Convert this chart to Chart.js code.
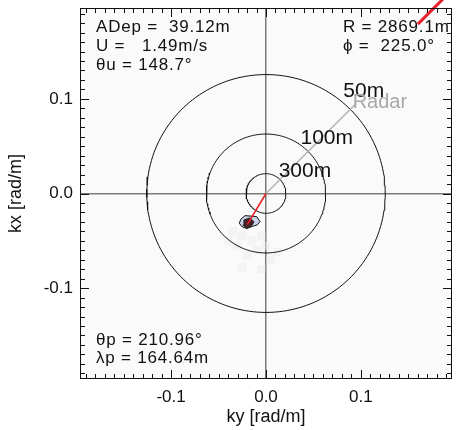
<!DOCTYPE html>
<html>
<head>
<meta charset="utf-8">
<script src="https://cdn.jsdelivr.net/npm/chart.js@4.4.1/dist/chart.umd.min.js"></script>
<style>
  html, body { margin: 0; padding: 0; background: #fff; }
  #wrap { width: 461px; height: 430px; }
</style>
</head>
<body>
<div id="wrap"><canvas id="spec" width="461" height="430"></canvas></div>
<script>
(function () {
    'use strict';

    // Axis range and ticks (rad/m).
    var AXIS_MIN   = -0.196;
    var AXIS_MAX   =  0.196;
    var tickValues = [-0.1, 0.0, 0.1];

    // Reference rings (wavelength in m).
    var ringWavelengths = [50, 100, 300];
    var ringLabels      = ['50m', '100m', '300m'];
    var ringLabelKy     = [0.103, 0.064, 0.041];
    var ringLabelKx     = [0.108, 0.058, 0.024];

    // Spectral peak.
    var peakKy = [0, -0.0196];
    var peakKx = [0, -0.0327];

    // Outer / inner contour around the peak.
    var outerKy = [-0.0266, -0.0221, -0.0098, -0.0063, -0.0092, -0.0151, -0.0203, -0.0256, -0.0281, -0.0266];
    var outerKx = [-0.0272, -0.0234, -0.0244, -0.0297, -0.0332, -0.0349, -0.0371, -0.0349, -0.0314, -0.0272];
    var innerKy = [-0.0232, -0.0168, -0.0126, -0.0158, -0.0211, -0.0242, -0.0232];
    var innerKx = [-0.0279, -0.0258, -0.0300, -0.0352, -0.0363, -0.0332, -0.0279];

    // Faint low-energy cells of the spectrum.
    var faintKy = [-0.025, -0.015, -0.005, -0.030, -0.020, -0.010, 0.000, -0.035, 0.005, -0.025, 0.012, -0.040, -0.005];
    var faintKx = [-0.045, -0.050, -0.045, -0.055, -0.065, -0.060, -0.055, -0.040, -0.070, -0.078, -0.062, -0.050, -0.080];

    // Radar look direction and current vector.
    var radarKy   = [0, 0.095];
    var radarKx   = [0, 0.095];
    var currentKy = [0.160, 0.195];
    var currentKx = [0.179, 0.214];

    // Text blocks.
    var infoLeft   = ['ADep =  39.12m', 'U =   1.49m/s', '\u03B8u = 148.7\u00B0'];
    var infoRight  = ['R = 2869.1m', '\u03D5 =  225.0\u00B0'];
    var infoBottom = ['\u03B8p = 210.96\u00B0', '\u03BBp = 164.64m'];

    var FONT = '"Liberation Sans", Arial, Helvetica, sans-serif';

    function pts(xs, ys) {
        return xs.map(function (x, i) { return { x: x, y: ys[i] }; });
    }

    function ringPoints(lambda) {
        var k = 2 * Math.PI / lambda;
        var out = [];
        for (var i = 0; i <= 180; i++) {
            var a = i / 180 * 2 * Math.PI;
            out.push({ x: k * Math.cos(a), y: k * Math.sin(a) });
        }
        return out;
    }

    var datasets = [];

    datasets.push({
        data: pts(faintKy, faintKx),
        pointStyle: 'rect',
        pointRadius: 6,
        pointBorderWidth: 0,
        backgroundColor: 'rgba(236,236,241,0.5)',
        order: 9
    });

    ringWavelengths.forEach(function (w) {
        datasets.push({
            data: ringPoints(w),
            showLine: true,
            borderColor: '#111',
            borderWidth: 1,
            pointRadius: 0,
            fill: false,
            order: 5
        });
    });

    datasets.push({
        data: pts(radarKy, radarKx),
        showLine: true,
        borderColor: '#b4b4b4',
        borderWidth: 1.5,
        pointRadius: 0,
        order: 4
    });

    datasets.push({
        data: pts(outerKy, outerKx),
        showLine: true,
        borderColor: '#111',
        borderWidth: 1,
        backgroundColor: '#c6d3e6',
        fill: 'shape',
        pointRadius: 0,
        order: 3
    });

    datasets.push({
        data: pts(innerKy, innerKx),
        showLine: true,
        borderColor: '#222',
        borderWidth: 1,
        backgroundColor: '#4b2228',
        fill: 'shape',
        pointRadius: 0,
        order: 2
    });

    datasets.push({
        data: pts(peakKy, peakKx),
        showLine: true,
        borderColor: '#e8202a',
        borderWidth: 1.6,
        pointRadius: 0,
        order: 1
    });

    datasets.push({
        data: pts(currentKy, currentKx),
        showLine: true,
        borderColor: '#e8202a',
        borderWidth: 3,
        pointRadius: 0,
        clip: false,
        order: 0
    });

    function zeroGrid(ctx) {
        return ctx.tick && ctx.tick.value === 0 ? '#7a7a7a' : 'rgba(0,0,0,0)';
    }

    // Plot background, frame, inward ticks and text.
    var decor = {
        id: 'decor',
        beforeDraw: function (chart) {
            var a = chart.chartArea, c = chart.ctx;
            c.save();
            c.fillStyle = '#fafafa';
            c.fillRect(a.left, a.top, a.right - a.left, a.bottom - a.top);
            c.restore();
        },
        afterDraw: function (chart) {
            var a = chart.chartArea, c = chart.ctx;
            var xs = chart.scales.x, ys = chart.scales.y;
            c.save();
            c.strokeStyle = '#111';
            c.lineWidth = 1;
            c.strokeRect(a.left + 0.5, a.top + 0.5, a.right - a.left - 1, a.bottom - a.top - 1);

            c.beginPath();
            for (var i = -19; i <= 19; i++) {
                var v = i / 100;
                var len = (i % 10 === 0) ? 9 : 5;
                var px = Math.round(xs.getPixelForValue(v)) + 0.5;
                var py = Math.round(ys.getPixelForValue(v)) + 0.5;
                c.moveTo(px, a.bottom); c.lineTo(px, a.bottom - len);
                c.moveTo(px, a.top);    c.lineTo(px, a.top + len);
                c.moveTo(a.left, py);   c.lineTo(a.left + len, py);
                c.moveTo(a.right, py);  c.lineTo(a.right - len, py);
            }
            c.stroke();

            // ring labels
            c.fillStyle = '#111';
            c.font = '21px ' + FONT;
            c.textAlign = 'center';
            c.textBaseline = 'middle';
            ringLabels.forEach(function (t, i) {
                c.fillText(t, xs.getPixelForValue(ringLabelKy[i]), ys.getPixelForValue(ringLabelKx[i]));
            });
            c.font = '20px ' + FONT;
            c.fillStyle = '#a8a8a8';
            c.fillText('Radar', xs.getPixelForValue(0.120), ys.getPixelForValue(0.096));

            // info blocks
            c.fillStyle = '#111';
            c.font = '17px ' + FONT;
            c.letterSpacing = '0.8px';
            c.textAlign = 'left';
            infoLeft.forEach(function (t, i) {
                c.fillText(t, a.left + 16, a.top + 19 + i * 19);
            });
            infoRight.forEach(function (t, i) {
                c.fillText(t, a.left + 263, a.top + 19 + i * 19);
            });
            infoBottom.forEach(function (t, i) {
                c.fillText(t, a.left + 16, a.bottom - 39 + i * 18);
            });
            c.restore();
        }
    };

    new Chart(document.getElementById('spec').getContext('2d'), {
        type: 'scatter',
        data: { datasets: datasets },
        plugins: [decor],
        options: {
            responsive: false,
            animation: false,
            layout: { padding: { top: 8, right: 9, left: 0, bottom: 0 } },
            plugins: { legend: { display: false }, tooltip: { enabled: false } },
            scales: {
                x: {
                    type: 'linear',
                    min: AXIS_MIN,
                    max: AXIS_MAX,
                    afterFit: function (s) {
                        s.height = 51;
                        s.paddingLeft = 0;
                        s.paddingRight = 0;
                    },
                    afterBuildTicks: function (s) {
                        s.ticks = tickValues.map(function (v) { return { value: v }; });
                    },
                    ticks: {
                        padding: 8,
                        color: '#111',
                        font: { family: FONT, size: 17 },
                        maxRotation: 0,
                        callback: function (v) { return Number(v).toFixed(1); }
                    },
                    grid: { color: zeroGrid, lineWidth: 1.5, drawTicks: false },
                    border: { display: false },
                    title: {
                        display: true,
                        text: 'ky [rad/m]',
                        color: '#111',
                        font: { family: FONT, size: 18 },
                        padding: { top: 0, bottom: 2 }
                    }
                },
                y: {
                    type: 'linear',
                    min: AXIS_MIN,
                    max: AXIS_MAX,
                    afterFit: function (s) {
                        s.width = 80;
                        s.paddingTop = 0;
                        s.paddingBottom = 0;
                    },
                    afterBuildTicks: function (s) {
                        s.ticks = tickValues.map(function (v) { return { value: v }; });
                    },
                    ticks: {
                        padding: 7,
                        color: '#111',
                        font: { family: FONT, size: 17 },
                        callback: function (v) { return Number(v).toFixed(1); }
                    },
                    grid: { color: zeroGrid, lineWidth: 1.5, drawTicks: false },
                    border: { display: false },
                    title: {
                        display: true,
                        text: 'kx [rad/m]',
                        color: '#111',
                        font: { family: FONT, size: 18 },
                        padding: { top: 5, bottom: 0 }
                    }
                }
            }
        }
    });
}());
</script>
</body>
</html>
